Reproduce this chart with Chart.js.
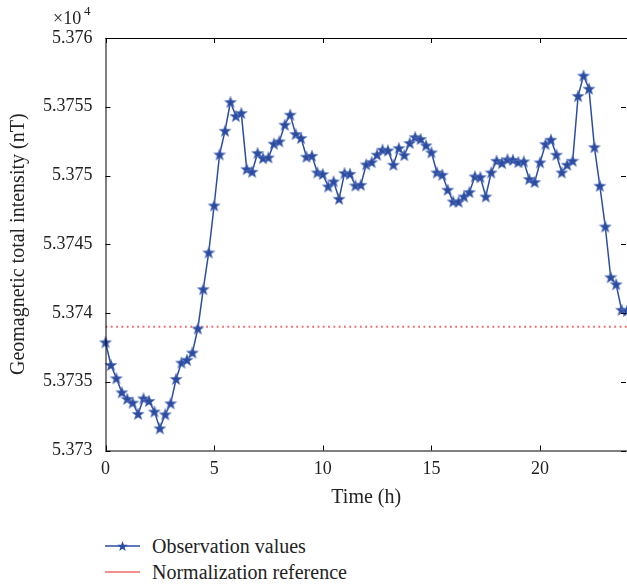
<!DOCTYPE html>
<html lang="en">
<head>
  <meta charset="UTF-8" />
  <title>Geomagnetic total intensity</title>
  <script src="https://cdn.jsdelivr.net/npm/chart.js"></script>
  <style>
    body {
      margin: 0;
      background: #fff;
      font-family: "Liberation Serif", "DejaVu Serif", serif;
      width: 627px;
      height: 586px;
      overflow: hidden;
    }
    .wrap {
      position: relative;
      width: 627px;
      height: 510px;
    }
    .legend {
      position: absolute;
      left: 105px;
      top: 533px;
      font-size: 20px;
      color: #222;
    }
    .legend div {
      display: flex;
      align-items: center;
      height: 26px;
    }
    .legend svg {
      margin-right: 12px;
    }
  </style>
</head>
<body>
  <div class="wrap">
    <canvas id="magChart" width="627" height="510"></canvas>
  </div>

  <div class="legend">
    <div>
      <svg width="35" height="12">
        <line x1="0" y1="6" x2="35" y2="6" stroke="#2b4ca0" stroke-width="1.5" />
        <polygon id="legStar" fill="#2b4ca0" />
      </svg>
      Observation values
    </div>
    <div>
      <svg width="35" height="12">
        <line x1="0" y1="6" x2="35" y2="6" stroke="#f06a6a" stroke-width="1.5" />
      </svg>
      Normalization reference
    </div>
  </div>

  <script>
    // time in hours, one sample every 15 minutes
    const hours = [];
    for (let i = 0; i <= 96; i++) hours.push(i * 0.25);

    // observed total intensity (nT)
    const observed = [
      53737.87, 53736.22, 53735.25, 53734.23, 53733.75, 53733.48, 53732.66, 53733.79,
      53733.60, 53732.83, 53731.61, 53732.63, 53733.43, 53735.20, 53736.39, 53736.59,
      53737.12, 53738.87, 53741.73, 53744.40, 53747.82, 53751.53, 53753.25, 53755.34,
      53754.32, 53754.54, 53750.46, 53750.27, 53751.63, 53751.26, 53751.31, 53752.31,
      53752.48, 53753.69, 53754.42, 53753.01, 53752.72, 53751.36, 53751.43, 53750.22,
      53750.10, 53749.20, 53749.57, 53748.30, 53750.17, 53750.12, 53749.27, 53749.32,
      53750.80, 53750.97, 53751.51, 53751.87, 53751.82, 53750.78, 53751.99, 53751.48,
      53752.36, 53752.79, 53752.65, 53752.19, 53751.68, 53750.22, 53750.05, 53748.96,
      53748.11, 53748.09, 53748.47, 53748.79, 53749.93, 53749.88, 53748.47, 53750.22,
      53751.07, 53750.90, 53751.17, 53751.14, 53750.97, 53751.02, 53749.74, 53749.52,
      53750.95, 53752.28, 53752.60, 53751.51, 53750.22, 53750.78, 53751.07, 53755.78,
      53757.26, 53756.31, 53752.06, 53749.25, 53746.29, 53742.60, 53742.09, 53740.23,
      53740.15
    ];

    // normalization reference level (nT)
    const referenceLevel = 53739;
    const referenceX = [0, 24];

    const xTicks = [0, 5, 10, 15, 20];
    const yTicks = [53730, 53735, 53740, 53745, 53750, 53755, 53760];

    function starPoints(cx, cy, ro, ri) {
      const pts = [];
      for (let k = 0; k < 10; k++) {
        const r = k % 2 === 0 ? ro : ri;
        const a = -Math.PI / 2 + k * Math.PI / 5;
        pts.push([cx + r * Math.cos(a), cy + r * Math.sin(a)]);
      }
      return pts;
    }

    // star marker image
    const starImg = document.createElement('canvas');
    starImg.width = 14;
    starImg.height = 14;
    (function () {
      const c = starImg.getContext('2d');
      const pts = starPoints(7, 7.5, 6.5, 2.7);
      c.beginPath();
      pts.forEach((p, i) => i ? c.lineTo(p[0], p[1]) : c.moveTo(p[0], p[1]));
      c.closePath();
      c.fillStyle = '#2b4ca0';
      c.fill();
      c.strokeStyle = 'rgba(120,145,210,0.6)';
      c.lineWidth = 0.7;
      c.stroke();
    })();

    document.getElementById('legStar').setAttribute('points',
      starPoints(17.5, 6.5, 5.5, 2.3).map(p => p.join(',')).join(' '));

    const tickFont = { family: '"Liberation Serif", "DejaVu Serif", serif', size: 18 };
    const titleFont = { family: '"Liberation Serif", "DejaVu Serif", serif', size: 20 };

    // box with inward ticks on all four sides plus the x10^4 label
    const framePlugin = {
      id: 'frame',
      afterDraw(chart) {
        const { ctx, chartArea: a, scales } = chart;
        ctx.save();
        ctx.strokeStyle = '#000';
        ctx.lineWidth = 1;
        ctx.strokeRect(a.left + 0.5, a.top + 0.5, a.right - a.left, a.bottom - a.top);
        ctx.beginPath();
        xTicks.forEach(v => {
          const x = Math.round(scales.x.getPixelForValue(v)) + 0.5;
          ctx.moveTo(x, a.bottom); ctx.lineTo(x, a.bottom - 5);
          ctx.moveTo(x, a.top); ctx.lineTo(x, a.top + 5);
        });
        yTicks.forEach(v => {
          const y = Math.round(scales.y.getPixelForValue(v)) + 0.5;
          ctx.moveTo(a.left, y); ctx.lineTo(a.left + 5, y);
          ctx.moveTo(a.right - 1, y); ctx.lineTo(a.right - 6, y);
        });
        ctx.stroke();

        ctx.fillStyle = '#222';
        ctx.font = '18px "Liberation Serif", serif';
        ctx.textBaseline = 'alphabetic';
        ctx.fillText('\u00d710', 53, 24);
        ctx.font = '13px "Liberation Serif", serif';
        ctx.fillText('4', 84, 15);
        ctx.restore();
      }
    };

    new Chart(document.getElementById('magChart'), {
      type: 'line',
      data: {
        datasets: [
          {
            label: 'Observation values',
            data: hours.map((h, i) => ({ x: h, y: observed[i] })),
            borderColor: '#2b4ca0',
            borderWidth: 1.5,
            pointStyle: starImg,
            tension: 0
          },
          {
            label: 'Normalization reference',
            data: referenceX.map(x => ({ x: x, y: referenceLevel })),
            borderColor: '#f06a6a',
            borderWidth: 2,
            borderDash: [1.8, 3.5],
            pointRadius: 0
          }
        ]
      },
      options: {
        responsive: false,
        animation: false,
        clip: false,
        layout: { autoPadding: false, padding: { top: 38, right: 0, bottom: 0, left: 0 } },
        plugins: {
          legend: { display: false },
          tooltip: { enabled: false }
        },
        scales: {
          x: {
            type: 'linear',
            min: 0,
            max: 24,
            afterBuildTicks: s => { s.ticks = xTicks.map(v => ({ value: v })); },
            afterFit: s => { s.height = 59.5; s.paddingLeft = 0; s.paddingRight = 0; },
            grid: { display: false, drawTicks: false },
            border: { display: false },
            ticks: { color: '#222', font: tickFont, padding: 8, maxRotation: 0 },
            title: {
              display: true,
              text: 'Time (h)',
              color: '#222',
              font: titleFont,
              padding: 0
            }
          },
          y: {
            min: 53730,
            max: 53760,
            afterBuildTicks: s => { s.ticks = yTicks.map(v => ({ value: v })); },
            afterFit: s => { s.width = 105.5; s.paddingTop = 0; s.paddingBottom = 0; },
            grid: { display: false, drawTicks: false },
            border: { display: false },
            ticks: {
              color: '#222',
              font: tickFont,
              padding: 13,
              callback: v => parseFloat((v / 1e4).toFixed(4)).toString()
            },
            title: {
              display: true,
              text: 'Geomagnetic total intensity (nT)',
              color: '#222',
              font: titleFont,
              padding: { top: 7, bottom: 0 }
            }
          }
        }
      },
      plugins: [framePlugin]
    });
  </script>
</body>
</html>
